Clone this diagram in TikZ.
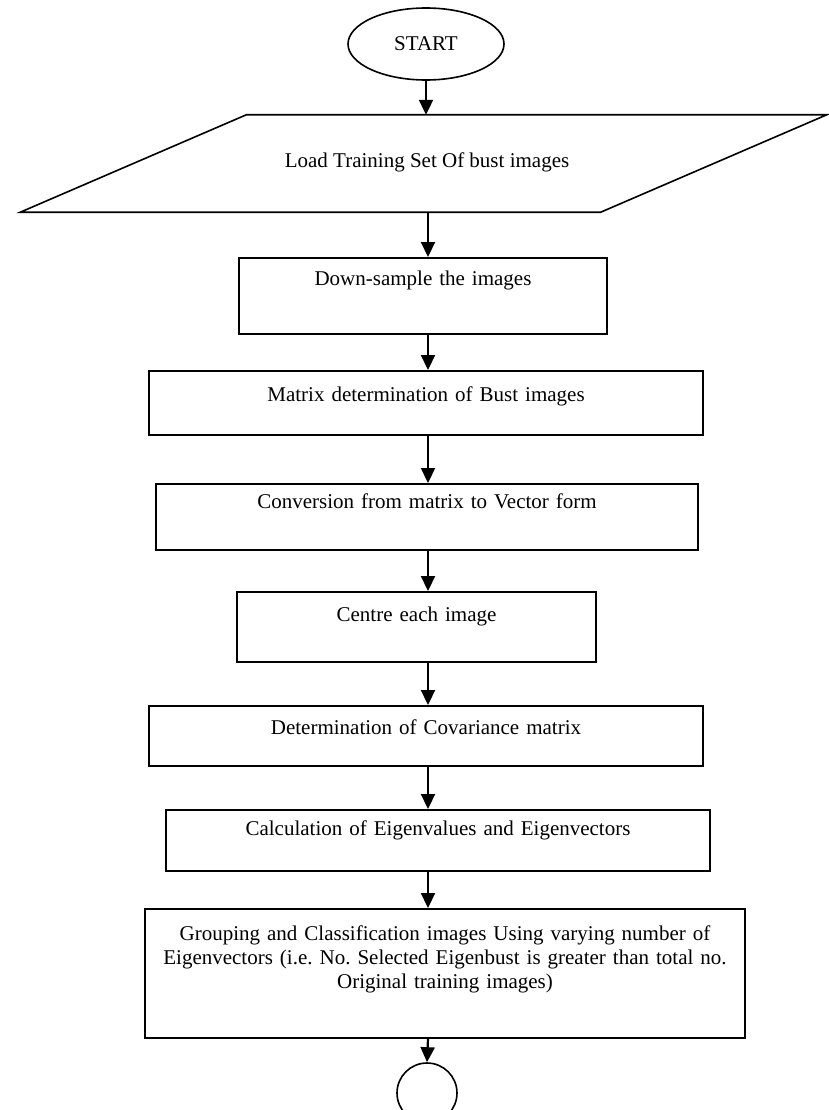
\documentclass[tikz,border=0pt]{standalone}
\usepackage{fontspec}
\setmainfont{Liberation Serif}
\usetikzlibrary{shapes.geometric,arrows.meta}
\begin{document}
\frenchspacing
\begin{tikzpicture}[x=1pt,y=-1pt,font=\fontsize{21}{24}\selectfont]
			\tikzstyle{box}=[rectangle,draw=black,line width=1.6pt,inner sep=0pt,anchor=north,align=center]
			\tikzstyle{io}=[rectangle,inner sep=0pt,minimum width=580pt,minimum height=97pt]
			\tikzstyle{term}=[ellipse,draw=black,line width=1.6pt,inner sep=0pt]
			\useasboundingbox (0,0) rectangle (829,1110);
			\begin{scope}
			\node[term,minimum width=156pt,minimum height=72pt] (start) at (426,44) {START};
			\node[io] (load) at (423.5,163.5) {};
			\node (loadtext) at (427,162) {Load Training Set Of bust images};
			\node[box,text width=368pt,text height=28pt,text depth=48pt] (down) at (423,257) {Down-sample the images};
			\node[box,text width=554pt,text height=31pt,text depth=33pt] (matrix) at (426,370) {Matrix determination of Bust images};
			\node[box,text width=542pt,text height=25pt,text depth=41pt] (vector) at (427,483) {Conversion from matrix to Vector form};
			\node[box,text width=359pt,text height=30pt,text depth=40pt] (centre) at (416.5,591) {Centre each image};
			\node[box,text width=554pt,text height=29pt,text depth=31pt] (covar) at (426,705) {Determination of Covariance matrix};
			\node[box,text width=544pt,text height=26pt,text depth=35pt] (eigen) at (438,809) {Calculation of Eigenvalues and Eigenvectors};
			\node[box,text width=600pt,text height=32pt,text depth=97pt] (group) at (445,908) {Grouping and Classification images Using varying number of\\Eigenvectors (i.e. No. Selected Eigenbust is greater than total no.\\Original training images)};
			\node[term,minimum size=60pt] (end) at (427,1093) {};
			\coordinate (axis) at (428,0);
			\end{scope}
			
			% input parallelogram
			\draw[line width=1.6pt] ([xshift=113pt]load.north west) -- ([xshift=113pt]load.north east)
			-- ([xshift=-113pt]load.south east) -- ([xshift=-113pt]load.south west) -- cycle;
			
			\path[-{Triangle[length=15pt,width=14pt]},line width=2.2pt]
			(start.south) edge (start.south |- load.north)
			(load.south -| axis) edge (down.north -| axis)
			(down.south -| axis) edge (matrix.north -| axis)
			(matrix.south -| axis) edge (vector.north -| axis)
			(vector.south -| axis) edge (centre.north -| axis)
			(centre.south -| axis) edge (covar.north -| axis)
			(covar.south -| axis) edge (eigen.north -| axis)
			(eigen.south -| axis) edge (group.north -| axis)
			(group.south -| axis) edge (end.north)
			;
		\end{tikzpicture}
\end{document}
